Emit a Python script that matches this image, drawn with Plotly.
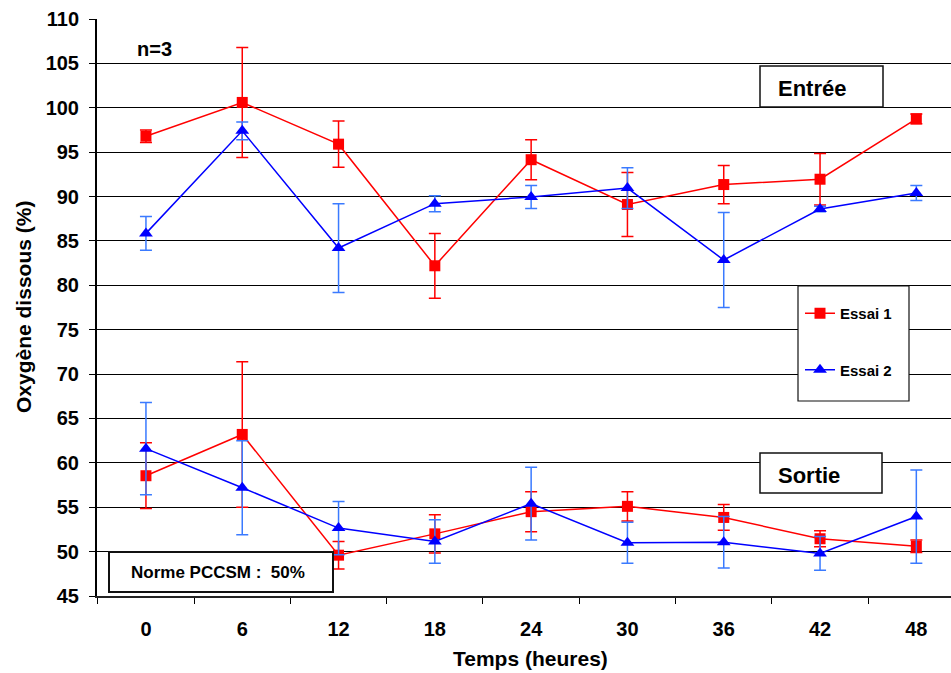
import plotly.graph_objects as go

# Sampling times (hours) and dissolved-oxygen readings (%), mean ± SD, n=3
hours = [0, 6, 12, 18, 24, 30, 36, 42, 48]

entree_essai1 = [96.8, 100.6, 95.9, 82.2, 94.15, 89.1, 91.35, 91.95, 98.75]
entree_essai1_sd = [0.7, 6.2, 2.6, 3.65, 2.25, 3.6, 2.15, 2.9, 0.55]
entree_essai2 = [85.85, 97.4, 84.2, 89.2, 89.95, 90.95, 82.85, 88.6, 90.4]
entree_essai2_sd = [1.9, 1.0, 5.0, 0.9, 1.3, 2.3, 5.35, 0.3, 0.85]

sortie_essai1 = [58.55, 63.2, 49.6, 52.0, 54.5, 55.1, 53.85, 51.45, 50.6]
sortie_essai1_sd = [3.7, 8.2, 1.55, 2.15, 2.25, 1.65, 1.45, 0.9, 0.7]
sortie_essai2 = [61.6, 57.2, 52.65, 51.15, 55.4, 51.0, 51.05, 49.8, 53.95]
sortie_essai2_sd = [5.2, 5.3, 3.0, 2.45, 4.1, 2.3, 2.9, 1.9, 5.25]

y_ticks = list(range(45, 111, 5))
x_boundaries = [h - 3 for h in hours] + [hours[-1] + 3]

W, H = 951, 673
ML, MR, MT, MB = 97, 0, 19, 77
PW, PH = W - ML - MR, H - MT - MB

FONT = "Liberation Sans, Arial, Helvetica, sans-serif"
RED = "#FF0000"
BLUE = "#0000FF"
BLUE_ERR = "#3A7AFF"


def px(x):
    return (x - ML) / PW


def py(y):
    return (H - MB - y) / PH


fig = go.Figure()


def add_series(x, y, sd, name, group, color, err_color, symbol, size, show):
    fig.add_trace(go.Scatter(
        x=x, y=y, name=name, legendgroup=group, showlegend=show,
        mode="lines+markers",
        line=dict(color=color, width=1.5),
        marker=dict(symbol=symbol, size=size, color=color,
                    line=dict(width=0)),
        error_y=dict(type="data", array=sd, visible=True,
                     color=err_color, thickness=1.5, width=6),
    ))


add_series(hours, entree_essai1, entree_essai1_sd, "Essai 1", "e1",
           RED, RED, "square", 11, True)
add_series(hours, sortie_essai1, sortie_essai1_sd, "Essai 1", "e1",
           RED, RED, "square", 11, False)
add_series(hours, entree_essai2, entree_essai2_sd, "Essai 2", "e2",
           BLUE, BLUE_ERR, "triangle-up", 12, True)
add_series(hours, sortie_essai2, sortie_essai2_sd, "Essai 2", "e2",
           BLUE, BLUE_ERR, "triangle-up", 12, False)

# framed boxes (white fill hides the grid behind them)
boxes = [
    (760, 66, 883, 107, 1.5),    # Entrée
    (760, 453, 882, 493, 1.5),   # Sortie
    (109, 552, 333, 592, 2),     # Norme PCCSM
    (798, 286, 909, 401, 1.2),   # legend frame
]
shapes = []
for x0, y0, x1, y1, lw in boxes:
    shapes.append(dict(type="rect", xref="paper", yref="paper",
                       x0=px(x0), x1=px(x1), y0=py(y1), y1=py(y0),
                       fillcolor="white", line=dict(color="#111111", width=lw),
                       layer="above"))


def label(text, x, y, size, angle=0):
    return dict(text=text, xref="paper", yref="paper", x=px(x), y=py(y),
                xanchor="center", yanchor="middle", showarrow=False,
                textangle=angle,
                font=dict(family=FONT, size=size, color="black", weight="bold"))


annotations = [
    label("n=3", 154, 49, 20),
    label("Entrée", 812, 88, 22),
    label("Sortie", 809, 475, 22),
    label("Norme PCCSM :&nbsp; 50%", 218, 572, 17),
    label("Temps (heures)", 530, 658, 21),
    label("Oxygène dissous (%)", 23, 307, 21, angle=-90),
]

fig.update_layout(
    template="none",
    width=W, height=H,
    margin=dict(l=ML, r=MR, t=MT, b=MB, pad=0),
    paper_bgcolor="white", plot_bgcolor="white",
    font=dict(family=FONT, color="black"),
    shapes=shapes,
    annotations=annotations,
    showlegend=True,
    legend=dict(x=px(800), y=py(297), xanchor="left", yanchor="top",
                bgcolor="rgba(0,0,0,0)", borderwidth=0,
                traceorder="grouped", tracegroupgap=34,
                font=dict(family=FONT, size=15, color="black", weight="bold")),
    xaxis=dict(
        range=[-3.05, 50.16], automargin=False,
        tickmode="array", tickvals=hours, ticktext=[str(h) for h in hours],
        ticks="", ticklabelstandoff=14,
        tickfont=dict(family=FONT, size=20, color="black", weight="bold"),
        showgrid=False, zeroline=False,
        showline=True, linecolor="#222222", linewidth=1.5,
        minor=dict(tickmode="array", tickvals=x_boundaries, ticks="outside",
                   ticklen=6, tickwidth=1, tickcolor="black", showgrid=False),
    ),
    yaxis=dict(
        range=[45, 110], automargin=False,
        tickmode="array", tickvals=y_ticks,
        ticks="outside", ticklen=6, tickwidth=1, tickcolor="black",
        ticklabelstandoff=6,
        tickfont=dict(family=FONT, size=20, color="black", weight="bold"),
        showgrid=True, gridcolor="black", gridwidth=1,
        zeroline=False,
        showline=True, linecolor="black", linewidth=2,
    ),
)

fig.write_html("out.html")
